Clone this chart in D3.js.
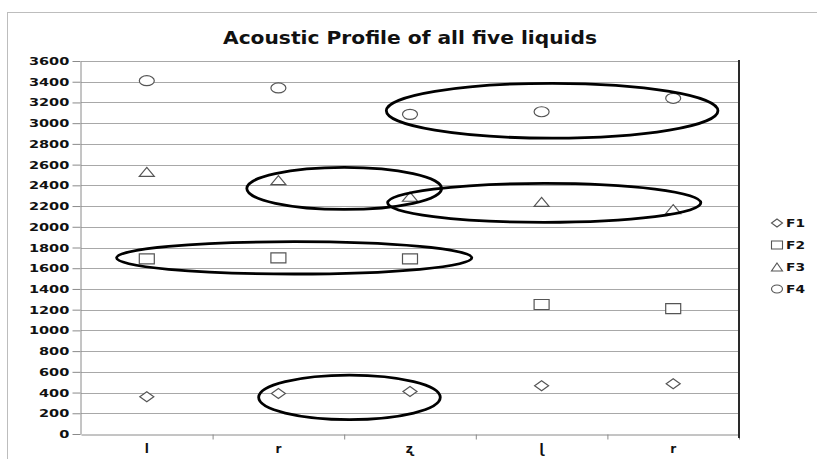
<!DOCTYPE html>
<html>
<head>
<meta charset="utf-8">
<script src="https://cdn.jsdelivr.net/npm/d3@7/dist/d3.min.js"></script>
<style>
  html, body { margin: 0; padding: 0; background: #fff; }
  svg { display: block; }
</style>
</head>
<body>
<svg id="chart" width="817" height="459"></svg>
<script>
// Liquid consonants on the x axis
const categories = ["l", "r", "ʐ", "ɭ", "r"];
// Formant frequencies (Hz) per liquid
const f1 = [360, 390, 410, 465, 485];
const f2 = [1690, 1700, 1690, 1250, 1210];
const f3 = [2530, 2450, 2290, 2240, 2170];
const f4 = [3410, 3340, 3085, 3110, 3240];
const seriesNames = ["F1", "F2", "F3", "F4"];
const yTicks = d3.range(0, 3601, 200);

// Highlight ellipses: centre (category index, Hz) and radii (categories, Hz)
const ringCx = [3.08, 1.50, 3.02, 1.12, 1.54];
const ringCy = [3120, 2370, 2231, 1700, 354];
const ringRx = [1.26, 0.74, 1.19, 1.35, 0.69];
const ringRy = [265, 203, 188, 156, 215];

const svg = d3.select("#chart");
const plot = { left: 81, right: 739, top: 61, bottom: 434 };
const FONT = "'DejaVu Sans', Verdana, sans-serif";

// outer chart frame
svg.append("rect")
  .attr("x", 7.5).attr("y", 12.5).attr("width", 900).attr("height", 900)
  .attr("fill", "#fff").attr("stroke", "#bdbdbd").attr("stroke-width", 1);

const y = d3.scaleLinear().domain([0, 3600]).range([plot.bottom, plot.top]);
const x = d3.scaleBand().domain(d3.range(categories.length)).range([plot.left, plot.right]);
const xEdge = d3.scaleLinear().domain([0, categories.length]).range([plot.left, plot.right]);
const xc = i => x(i) + x.bandwidth() / 2;
const xUnit = x.bandwidth();
const hzUnit = (y(0) - y(1));

// title
svg.append("text")
  .attr("x", 410).attr("y", 44)
  .attr("text-anchor", "middle")
  .attr("font-family", FONT)
  .attr("font-weight", "bold").attr("font-size", 17)
  .attr("textLength", 374).attr("lengthAdjust", "spacingAndGlyphs")
  .attr("fill", "#111")
  .text("Acoustic Profile of all five liquids");

// gridlines
svg.append("g")
  .selectAll("line").data(yTicks.filter(v => v > 0)).join("line")
  .attr("x1", plot.left).attr("x2", plot.right)
  .attr("y1", d => Math.round(y(d)) + 0.5).attr("y2", d => Math.round(y(d)) + 0.5)
  .attr("stroke", "#a8a8a8").attr("stroke-width", 1.2);

// y axis
const yAxis = svg.append("g")
  .attr("transform", `translate(${plot.left - 0.5},0)`)
  .call(d3.axisLeft(y).tickValues(yTicks).tickFormat(d3.format("d"))
    .tickSize(8).tickPadding(3).tickSizeOuter(0));
yAxis.select(".domain").attr("stroke", "#8a8a8a");
yAxis.selectAll(".tick line").attr("stroke", "#8a8a8a");
yAxis.selectAll(".tick text")
  .attr("font-family", FONT).attr("font-weight", "bold").attr("font-size", 11)
  .attr("fill", "#111")
  .attr("transform", "scale(1.32,1)")
  .attr("x", -8.5);

// x axis line and band-edge ticks
const xTicksG = svg.append("g")
  .attr("transform", `translate(0,${plot.bottom + 0.5})`)
  .call(d3.axisBottom(xEdge).tickValues(d3.range(1, categories.length + 1)).tickSize(5).tickFormat("").tickSizeOuter(0));
xTicksG.select(".domain").attr("stroke", "#8a8a8a");
xTicksG.selectAll(".tick line").attr("stroke", "#8a8a8a");

// category labels
const xAxis = svg.append("g")
  .attr("transform", `translate(0,${plot.bottom})`)
  .call(d3.axisBottom(x).tickSize(0).tickPadding(10).tickFormat(i => categories[i]));
xAxis.select(".domain").remove();
xAxis.selectAll(".tick text")
  .attr("font-family", FONT).attr("font-weight", "bold").attr("font-size", 12)
  .attr("fill", "#111");

// right border of the plot
svg.append("line")
  .attr("x1", plot.right).attr("x2", plot.right)
  .attr("y1", plot.top - 1).attr("y2", plot.bottom + 4)
  .attr("stroke", "#2a2a2a").attr("stroke-width", 2);

// marker shapes (w x h box)
function markerPath(type, w, h) {
  const a = w / 2, b = h / 2;
  if (type === 0) return `M0,${-b}L${a},0L0,${b}L${-a},0Z`;
  if (type === 1) return `M${-a},${-b}H${a}V${b}H${-a}Z`;
  if (type === 2) return `M0,${-b}L${a},${b}H${-a}Z`;
  return `M${-a},0A${a},${b} 0 1,0 ${a},0A${a},${b} 0 1,0 ${-a},0Z`;
}
const markerSize = [[14, 10], [15, 10], [15, 9], [15, 10]];

const series = [f1, f2, f3, f4];
series.forEach((vals, s) => {
  svg.append("g").selectAll("path").data(vals).join("path")
    .attr("transform", (d, i) => `translate(${xc(i)},${y(d)})`)
    .attr("d", markerPath(s, markerSize[s][0], markerSize[s][1]))
    .attr("fill", "#fff").attr("stroke", "#555").attr("stroke-width", 1.2);
});

// highlight rings
svg.append("g").selectAll("ellipse").data(ringCx).join("ellipse")
  .attr("cx", (d, i) => xc(0) + d * xUnit)
  .attr("cy", (d, i) => y(ringCy[i]))
  .attr("rx", (d, i) => ringRx[i] * xUnit)
  .attr("ry", (d, i) => ringRy[i] * hzUnit)
  .attr("fill", "none").attr("stroke", "#000").attr("stroke-width", 2.8);

// legend
const legend = svg.append("g");
seriesNames.forEach((name, s) => {
  const gy = 223 + s * 22;
  legend.append("path")
    .attr("transform", `translate(777,${gy})`)
    .attr("d", markerPath(s, 11, 8))
    .attr("fill", "#fff").attr("stroke", "#555").attr("stroke-width", 1.1);
  legend.append("text")
    .attr("x", 786).attr("y", gy + 4)
    .attr("font-family", FONT).attr("font-weight", "bold").attr("font-size", 11)
    .attr("textLength", 19).attr("lengthAdjust", "spacingAndGlyphs")
    .attr("fill", "#111")
    .text(name);
});
</script>
</body>
</html>
